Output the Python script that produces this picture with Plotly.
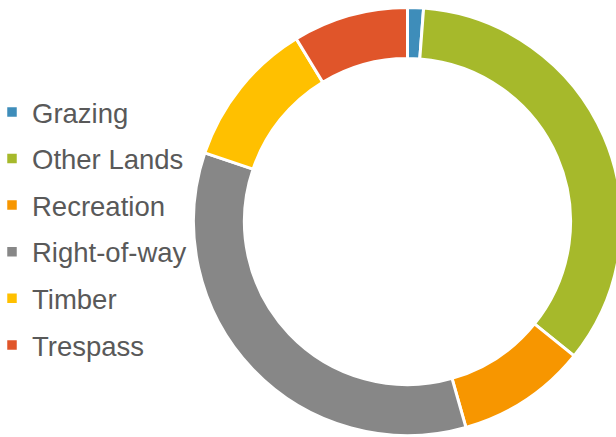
import plotly.graph_objects as go

labels = ["Grazing", "Other Lands", "Recreation", "Right-of-way", "Timber", "Trespass"]
values = [1.2, 34.6, 9.8, 34.6, 11.1, 8.7]
colors = ["#3E8DBA", "#A6B92B", "#F79600", "#878787", "#FFC000", "#E0552A"]

W, H = 622, 437  # ring is clipped at the right edge of the 616px window
fig = go.Figure()
fig.add_trace(go.Pie(
    labels=labels,
    values=values,
    marker=dict(colors=colors, line=dict(color="white", width=3)),
    hole=0.762,
    sort=False,
    direction="clockwise",
    rotation=0,
    textinfo="none",
    hoverinfo="label+percent",
    showlegend=False,
    domain=dict(x=[193.5 / W, 621.5 / W], y=[1 - 435.5 / H, 1 - 7.5 / H]),
))

# legend entries (one per slice, same labels and colours)
for lab, col in zip(labels, colors):
    fig.add_trace(go.Scatter(
        x=[None], y=[None], mode="markers", name=lab, legendgroup=lab,
        marker=dict(symbol="square", size=9.5, color=col),
        hoverinfo="skip", showlegend=True,
    ))

fig.update_layout(
    width=W, height=H,
    margin=dict(l=0, r=0, t=0, b=0, autoexpand=False),
    paper_bgcolor="white",
    plot_bgcolor="rgba(0,0,0,0)",
    font=dict(family="Liberation Sans, Arial, sans-serif", color="#595959"),
    xaxis=dict(visible=False),
    yaxis=dict(visible=False),
    showlegend=True,
    legend=dict(
        x=-8 / W, xanchor="left",
        y=1 - 228.5 / H, yanchor="middle",
        font=dict(size=27.5, color="#595959"),
        traceorder="grouped",
        tracegroupgap=7.85,
        bgcolor="rgba(0,0,0,0)",
    ),
)

fig.write_html(
    "out.html",
    post_script="document.documentElement.style.overflow='hidden';document.body.style.overflow='hidden';",
)
